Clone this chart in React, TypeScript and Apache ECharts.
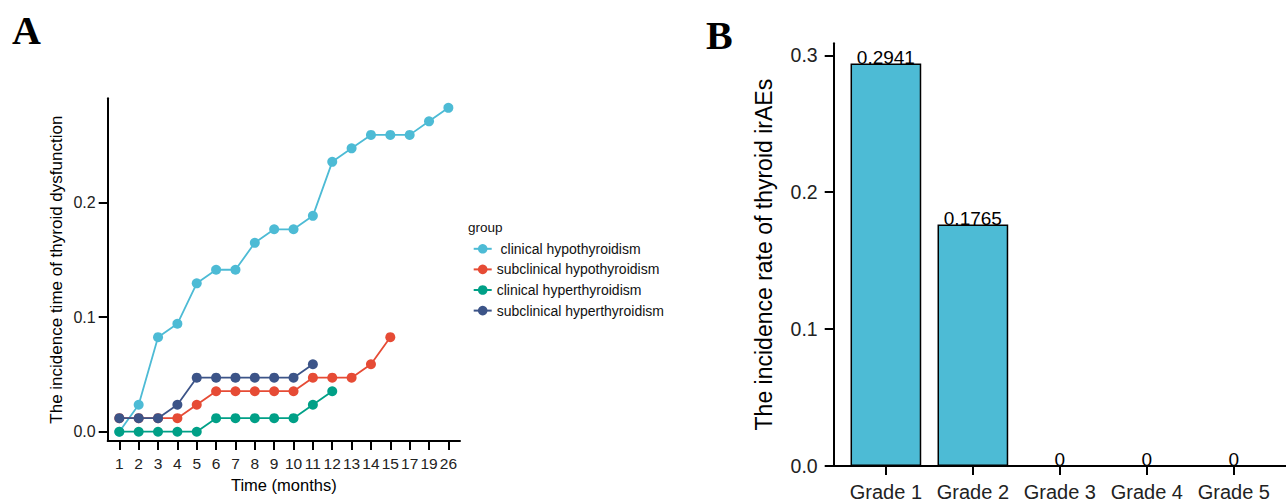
import React, { useEffect, useRef } from 'react';
import * as echarts from 'echarts';

// ---- Data (panel A) ----
const timeLabels = ['1', '2', '3', '4', '5', '6', '7', '8', '9', '10', '11', '12', '13', '14', '15', '17', '19', '26'];
const clinicalHypo = [0, 0.0235, 0.0824, 0.0941, 0.1294, 0.1412, 0.1412, 0.1647, 0.1765, 0.1765, 0.1882, 0.2353, 0.2471, 0.2588, 0.2588, 0.2588, 0.2706, 0.2824];
const subclinicalHypo = [0.0118, 0.0118, 0.0118, 0.0118, 0.0235, 0.0353, 0.0353, 0.0353, 0.0353, 0.0353, 0.0471, 0.0471, 0.0471, 0.0588, 0.0824];
const clinicalHyper = [0, 0, 0, 0, 0, 0.0118, 0.0118, 0.0118, 0.0118, 0.0118, 0.0235, 0.0353];
const subclinicalHyper = [0.0118, 0.0118, 0.0118, 0.0235, 0.0471, 0.0471, 0.0471, 0.0471, 0.0471, 0.0471, 0.0588];
const groupNames = [' clinical hypothyroidism', 'subclinical hypothyroidism', 'clinical hyperthyroidism', 'subclinical hyperthyroidism'];
const groupColors = ['#4DBBD5', '#E64B35', '#00A087', '#3C5488'];
const yTicksA = [0, 0.1, 0.2];

// ---- Data (panel B) ----
const grades = ['Grade 1', 'Grade 2', 'Grade 3', 'Grade 4', 'Grade 5'];
const gradeRates = [0.2941, 0.1765, 0, 0, 0];
const yTicksB = [0, 0.1, 0.2, 0.3];

const SANS = '"Liberation Sans", Arial, sans-serif';
const SERIF = '"Liberation Serif", "Times New Roman", serif';

export default function App() {
  const ref = useRef<HTMLDivElement>(null);

  useEffect(() => {
    if (!ref.current) return;
    const chart = echarts.init(ref.current, undefined, { renderer: 'svg' });

    const groupData = [clinicalHypo, subclinicalHypo, clinicalHyper, subclinicalHyper];
    const xIdxA = timeLabels.map((_, i) => i);
    const xIdxB = grades.map((_, i) => i);

    const axisLine = { show: true, onZero: false, lineStyle: { color: '#000', width: 2 } };
    const axisTickBase = { show: true, length: 9, lineStyle: { color: '#000', width: 2 } };

    const option: any = {
      animation: false,
      backgroundColor: '#fff',
      textStyle: { fontFamily: SANS },
      grid: [
        { left: 107.7, top: 98.3, width: 352.3, height: 342.7, containLabel: false },
        { left: 833.7, top: 43.3, width: 459.7, height: 422.7, containLabel: false },
      ],
      legend: {
        data: groupNames,
        orient: 'vertical',
        left: 467.7,
        top: 236.8,
        itemWidth: 18,
        itemHeight: 12,
        itemGap: 6.6,
        textStyle: { fontSize: 14, color: '#111', fontFamily: SANS, lineHeight: 14 },
        selectedMode: false,
      },
      xAxis: [
        {
          type: 'value',
          gridIndex: 0,
          min: -0.6,
          max: 17.6,
          axisLine,
          axisTick: { ...axisTickBase, customValues: xIdxA },
          axisLabel: {
            customValues: xIdxA,
            formatter: (v: number) => timeLabels[Math.round(v)] ?? '',
            fontSize: 15.5,
            color: '#222',
            margin: 14,
            fontFamily: SANS,
          },
          splitLine: { show: false },
          name: 'Time (months)',
          nameLocation: 'middle',
          nameGap: 35,
          nameTextStyle: { fontSize: 16.5, color: '#000', fontFamily: SANS },
        },
        {
          type: 'value',
          gridIndex: 1,
          min: -0.6,
          max: 4.6,
          axisLine,
          axisTick: { ...axisTickBase, customValues: xIdxB },
          axisLabel: {
            customValues: xIdxB,
            formatter: (v: number) => grades[Math.round(v)] ?? '',
            fontSize: 20,
            color: '#222',
            margin: 16,
            fontFamily: SANS,
          },
          splitLine: { show: false },
        },
      ],
      yAxis: [
        {
          type: 'value',
          gridIndex: 0,
          min: -0.0081,
          max: 0.2907,
          axisLine,
          axisTick: { ...axisTickBase, customValues: yTicksA },
          axisLabel: {
            customValues: yTicksA,
            formatter: (v: number) => v.toFixed(1),
            fontSize: 16,
            color: '#222',
            margin: 12,
            fontFamily: SANS,
          },
          splitLine: { show: false },
          name: 'The incidence time of thyroid dysfunction',
          nameLocation: 'middle',
          nameGap: 43,
          nameTextStyle: { fontSize: 17, color: '#000', fontFamily: SANS },
        },
        {
          type: 'value',
          gridIndex: 1,
          min: 0,
          max: 0.3088,
          axisLine,
          axisTick: { ...axisTickBase, customValues: yTicksB },
          axisLabel: {
            customValues: yTicksB,
            formatter: (v: number) => v.toFixed(1),
            fontSize: 19.5,
            color: '#222',
            margin: 16,
            fontFamily: SANS,
          },
          splitLine: { show: false },
          name: 'The incidence rate of thyroid irAEs',
          nameLocation: 'middle',
          nameGap: 58,
          nameTextStyle: { fontSize: 23, color: '#000', fontFamily: SANS },
        },
      ],
      series: [
        ...groupData.map((vals, k) => ({
          type: 'line',
          name: groupNames[k],
          xAxisIndex: 0,
          yAxisIndex: 0,
          data: vals.map((v, i) => [i, v]),
          symbol: 'circle',
          symbolSize: 10,
          showSymbol: true,
          lineStyle: { color: groupColors[k], width: 1.8 },
          itemStyle: { color: groupColors[k] },
          z: 2 + k,
        })),
        {
          type: 'bar',
          name: 'rate',
          xAxisIndex: 1,
          yAxisIndex: 1,
          data: gradeRates.map((v, i) => [i, v]),
          barWidth: 70.7,
          itemStyle: { color: '#4DBBD5', borderColor: '#000', borderWidth: 1.5 },
          label: {
            show: true,
            position: 'top',
            distance: -4,
            formatter: (p: any) => String(p.value[1]),
            fontSize: 19,
            color: '#000',
            fontFamily: SANS,
          },
        },
      ],
      graphic: [
        {
          type: 'text',
          left: 12,
          top: 10,
          style: { text: 'A', fontSize: 40, fontWeight: 'bold', fontFamily: SERIF, fill: '#000' },
        },
        {
          type: 'text',
          left: 706,
          top: 15,
          style: { text: 'B', fontSize: 40, fontWeight: 'bold', fontFamily: SERIF, fill: '#000' },
        },
        {
          type: 'text',
          left: 468,
          top: 220,
          style: { text: 'group', fontSize: 13.5, fontFamily: SANS, fill: '#111' },
        },
      ],
    };

    chart.setOption(option);
    return () => chart.dispose();
  }, []);

  return (
    <div
      ref={ref}
      style={{ position: 'absolute', left: 0, top: 0, width: 1286, height: 502, background: '#fff' }}
    />
  );
}
